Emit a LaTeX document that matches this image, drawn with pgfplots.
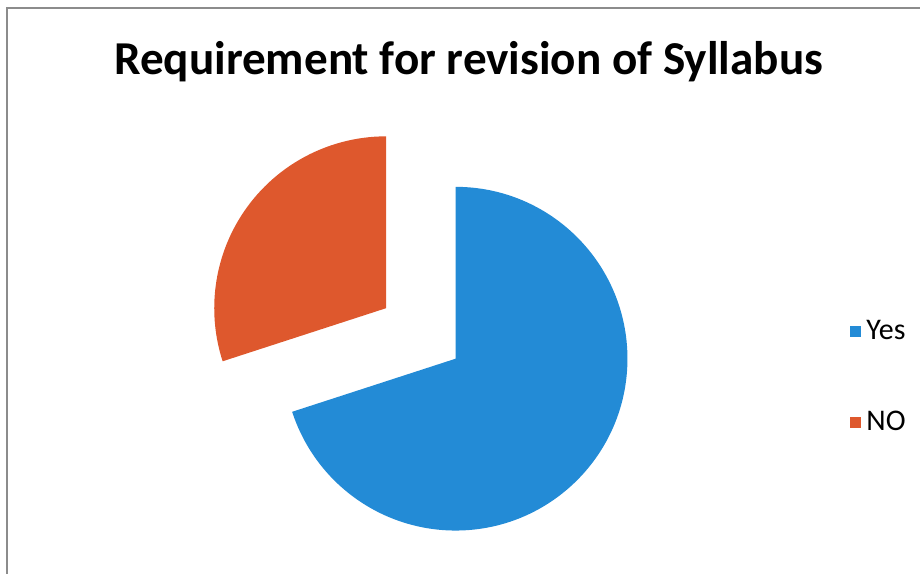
\documentclass[border=0pt]{standalone}
\usepackage{pgfplots}
\pgfplotsset{compat=1.18}
\usepackage{pgfplotstable}
\usepackage{fontspec}
\setmainfont{Carlito}

\definecolor{yesblue}{RGB}{35,139,214}
\definecolor{noorange}{RGB}{222,88,45}
\definecolor{framegray}{RGB}{140,140,140}

\pgfplotstableread{
label value
Yes   70
NO    30
}\pietable

\begin{document}
\begin{tikzpicture}
% shares -> angles (clockwise from 12 o'clock, like the spreadsheet pie)
\pgfplotstablegetelem{0}{value}\of\pietable \let\yesval\pgfplotsretval
\pgfplotstablegetelem{1}{value}\of\pietable \let\noval\pgfplotsretval
\pgfmathsetmacro{\total}{\yesval+\noval}
\pgfmathsetmacro{\yesend}{90-\yesval/\total*360}
\pgfmathsetmacro{\noend}{90+\noval/\total*360}
\pgfmathsetmacro{\nomid}{90+\noval/\total*180}
% centre in pixel units, radius 172 px = 86pt, explode 0.5 r
\pgfmathsetmacro{\cx}{456}
\pgfmathsetmacro{\cy}{215}
\pgfmathsetmacro{\ox}{\cx+86*cos(\nomid)}
\pgfmathsetmacro{\oy}{\cy+86*sin(\nomid)}
\begin{axis}[
    x=0.5pt, y=0.5pt,
    xmin=0, xmax=921, ymin=0, ymax=574,
    hide axis,
    clip=false,
    legend style={draw=none, fill=none, inner sep=0pt,
        at={(axis cs:850,258)}, anchor=north west,
        font=\fontsize{15}{17}\selectfont, row sep=30.5pt,
        /tikz/every odd column/.append style={column sep=1pt}},
    legend cell align=left,
    legend image code/.code={\fill[#1] (0pt,-2.5pt) rectangle (5pt,2.5pt);},
]
\path (axis cs:0,0) rectangle (axis cs:921,574);
\draw[framegray, line width=0.8pt] (axis cs:7,0) -- (axis cs:7,566) -- (axis cs:921,566);

\fill[yesblue] (axis cs:\cx,\cy) -- ++(90:86pt)
    arc[start angle=90, end angle=\yesend, radius=86pt] -- cycle;
\fill[noorange] (axis cs:\ox,\oy) -- ++(90:86pt)
    arc[start angle=90, end angle=\noend, radius=86pt] -- cycle;

\node[font=\fontsize{23.6}{28}\selectfont\bfseries] at (axis cs:469,512)
    {Requirement for revision of Syllabus};

\addlegendimage{yesblue}
\addlegendentry{Yes}
\addlegendimage{noorange}
\addlegendentry{NO}
\end{axis}
\end{tikzpicture}
\end{document}
